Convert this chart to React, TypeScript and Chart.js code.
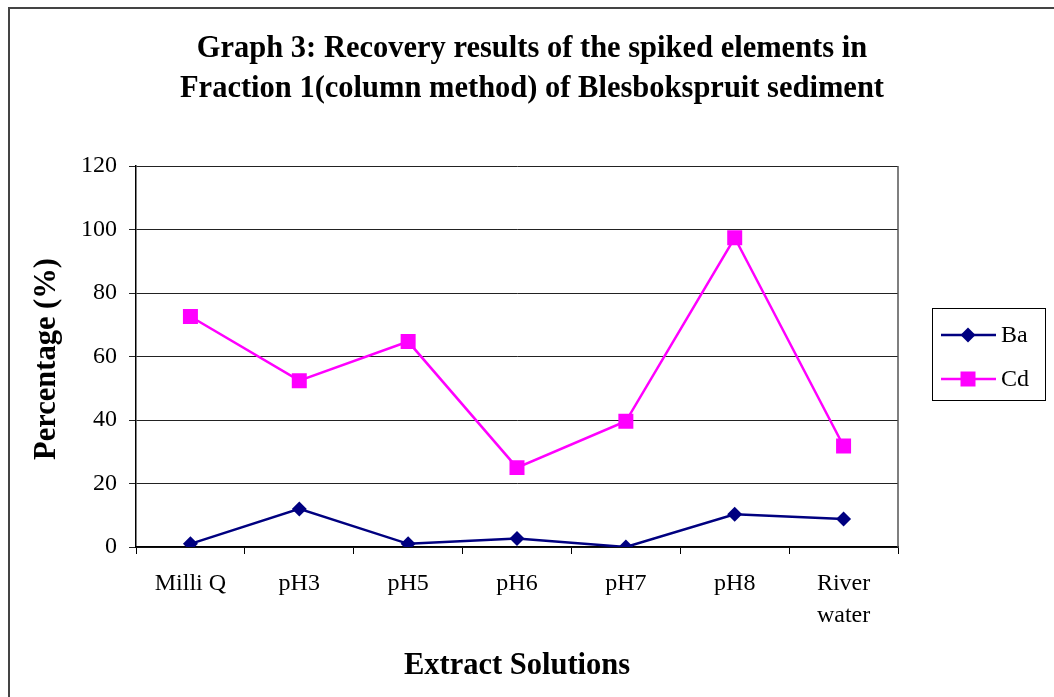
import React, { useEffect, useRef } from "react";
import { Chart, registerables } from "chart.js";

Chart.register(...registerables);

const categories: (string | string[])[] = ["Milli Q", "pH3", "pH5", "pH6", "pH7", "pH8", ["River", "water"]];
const baValues = [1.0, 12.0, 1.0, 2.7, 0, 10.3, 8.8];
const cdValues = [72.6, 52.4, 64.7, 25.0, 39.6, 97.4, 31.8];
const yTicks = [0, 20, 40, 60, 80, 100, 120];
const titleLines = [
  "Graph 3: Recovery results of the spiked elements in",
  "Fraction 1(column method) of Blesbokspruit sediment",
];
const xTitle = "Extract Solutions";
const yTitle = "Percentage (%)";

const SERIF = "'Liberation Serif', 'Times New Roman', serif";
const BA_COLOR = "#000080";
const CD_COLOR = "#FF00FF";

const decorPlugin = {
  id: "decor",
  afterDraw(chart: any) {
    const ctx = chart.ctx as CanvasRenderingContext2D;
    const ca = chart.chartArea;
    ctx.save();
    // outer frame
    ctx.strokeStyle = "#444";
    ctx.lineWidth = 2;
    ctx.beginPath();
    ctx.moveTo(9, 700);
    ctx.lineTo(9, 8);
    ctx.lineTo(1054, 8);
    ctx.stroke();
    // plot area right border
    ctx.strokeStyle = "#555";
    ctx.lineWidth = 1.5;
    ctx.beginPath();
    ctx.moveTo(ca.right, ca.top);
    ctx.lineTo(ca.right, ca.bottom);
    ctx.stroke();
    // title
    ctx.fillStyle = "#000";
    ctx.font = `bold 30.5px ${SERIF}`;
    ctx.textAlign = "center";
    ctx.textBaseline = "middle";
    ctx.fillText(titleLines[0], 532, 49);
    ctx.fillText(titleLines[1], 532, 89);
    // x title
    ctx.fillText(xTitle, 517, 666);
    // y title
    ctx.save();
    ctx.translate(47, 359);
    ctx.rotate(-Math.PI / 2);
    ctx.fillText(yTitle, 0, 0);
    ctx.restore();
    // legend
    ctx.strokeStyle = "#000";
    ctx.lineWidth = 1;
    ctx.strokeRect(932.5, 308.5, 113, 92);
    const entries = [
      { label: "Ba", color: BA_COLOR, y: 335, shape: "diamond" },
      { label: "Cd", color: CD_COLOR, y: 379, shape: "square" },
    ];
    ctx.font = `24px ${SERIF}`;
    ctx.textAlign = "left";
    for (const e of entries) {
      ctx.strokeStyle = e.color;
      ctx.lineWidth = 2.5;
      ctx.beginPath();
      ctx.moveTo(941, e.y);
      ctx.lineTo(996, e.y);
      ctx.stroke();
      ctx.fillStyle = e.color;
      if (e.shape === "diamond") {
        ctx.beginPath();
        ctx.moveTo(968 - 7.5, e.y);
        ctx.lineTo(968, e.y - 7.5);
        ctx.lineTo(968 + 7.5, e.y);
        ctx.lineTo(968, e.y + 7.5);
        ctx.closePath();
        ctx.fill();
      } else {
        ctx.fillRect(968 - 7.5, e.y - 7.5, 15, 15);
      }
      ctx.fillStyle = "#000";
      ctx.fillText(e.label, 1001, e.y + 1);
    }
    ctx.restore();
  },
};

export default function App() {
  const ref = useRef<HTMLCanvasElement | null>(null);
  useEffect(() => {
    if (!ref.current) return;
    const chart = new Chart(ref.current, {
      type: "line",
      data: {
        labels: categories as any,
        datasets: [
          {
            label: "Ba",
            data: baValues,
            borderColor: BA_COLOR,
            backgroundColor: BA_COLOR,
            borderWidth: 2.5,
            pointStyle: "rectRot",
            pointRadius: 7.5,
            pointBorderWidth: 0,
            tension: 0,
          },
          {
            label: "Cd",
            data: cdValues,
            borderColor: CD_COLOR,
            backgroundColor: CD_COLOR,
            borderWidth: 2.5,
            pointStyle: "rect",
            pointRadius: 10.6,
            pointBorderWidth: 0,
            tension: 0,
          },
        ],
      },
      options: {
        responsive: false,
        animation: false,
        layout: { padding: { left: 0, top: 166, right: 156, bottom: 0 } },
        plugins: {
          legend: { display: false },
          title: { display: false },
          tooltip: { enabled: false },
        },
        scales: {
          x: {
            type: "category",
            offset: true,
            grid: {
              offset: true,
              drawOnChartArea: false,
              drawTicks: true,
              tickLength: 7,
              color: "#000",
            },
            border: { display: true, color: "#000", width: 1.5 },
            ticks: {
              color: "#000",
              font: { family: SERIF, size: 24, lineHeight: 1.33 },
              padding: 14,
              maxRotation: 0,
              autoSkip: false,
            },
            afterFit(scale: any) {
              scale.height = 150;
            },
          },
          y: {
            type: "linear",
            min: 0,
            max: 120,
            afterBuildTicks(scale: any) {
              scale.ticks = yTicks.map((v) => ({ value: v }));
            },
            grid: {
              color: "#222",
              lineWidth: 1,
              tickLength: 7,
              drawTicks: true,
            },
            border: { display: true, color: "#000", width: 1.5 },
            ticks: {
              color: "#000",
              font: { family: SERIF, size: 24 },
              padding: 12,
            },
            afterFit(scale: any) {
              scale.width = 136;
            },
          },
        },
      },
      plugins: [decorPlugin],
    });
    return () => chart.destroy();
  }, []);
  return (
    <div style={{ position: "absolute", left: 0, top: 0, width: 1054, height: 697, background: "#fff" }}>
      <canvas ref={ref} width={1054} height={697} style={{ display: "block" }} />
    </div>
  );
}
